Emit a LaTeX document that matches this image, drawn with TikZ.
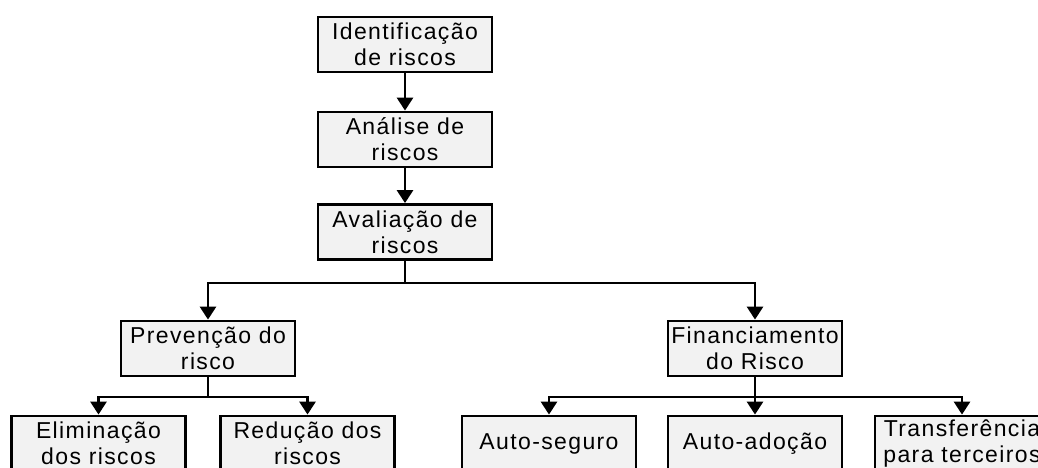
\documentclass[tikz,border=0pt]{standalone}
\usepackage{fontspec}
\setmainfont{Liberation Sans}[LetterSpace=6]
\usetikzlibrary{arrows.meta}
\definecolor{boxfill}{HTML}{F2F2F2}
\tikzset{
  box/.style={draw=black, line width=2.8pt, fill=boxfill, minimum width=174pt, minimum height=55pt,
    inner sep=0pt, align=center, font=\fontsize{23}{26}\selectfont},
  conn/.style={line width=2.8pt, -{Triangle[width=16pt,length=13pt]}},
  plain/.style={line width=2.8pt},
}
\begin{document}
\begin{tikzpicture}[x=1pt,y=-1pt]
\useasboundingbox (0,0) rectangle (1038,468);
\clip (0,0) rectangle (1038,468);
\node[box] (id) at (405,44.5) {Identificação\\de riscos};
\node[box] (an) at (405,139.5) {Análise de\\riscos};
\node[box] (av) at (405,232) {Avaliação de\\riscos};
\node[box] (prev) at (208,348.5) {Prevenção do\\risco};
\node[box] (fin) at (755,348.5) {Financiamento\\do Risco};
\node[box] (elim) at (98.5,443.5) {Eliminação\\dos riscos};
\node[box] (red) at (307.5,443.5) {Redução dos\\riscos};
\node[box] (autos) at (549,443.5) {Auto-seguro};
\node[box] (autoa) at (755,443.5) {Auto-adoção};
\node[box] (transf) at (962,443.5) {Transferência\\para terceiros};
\coordinate (j1) at (405,283);
\coordinate (j2) at (208,397);
\coordinate (j3) at (755,397);
\draw[conn] (id) -- (an);
\draw[conn] (an) -- (av);
\draw[plain] (av.south) -- (j1);
\draw[conn] (j1) -| (prev.north);
\draw[conn] (j1) -| (fin.north);
\draw[plain] (prev.south) -- (j2);
\draw[conn] (j2) -| (elim.north);
\draw[conn] (j2) -| (red.north);
\draw[plain] (fin.south) -- (j3);
\draw[conn] (j3) -| (autos.north);
\draw[conn] (j3) -- (autoa.north);
\draw[conn] (j3) -| (transf.north);
\end{tikzpicture}
\end{document}
